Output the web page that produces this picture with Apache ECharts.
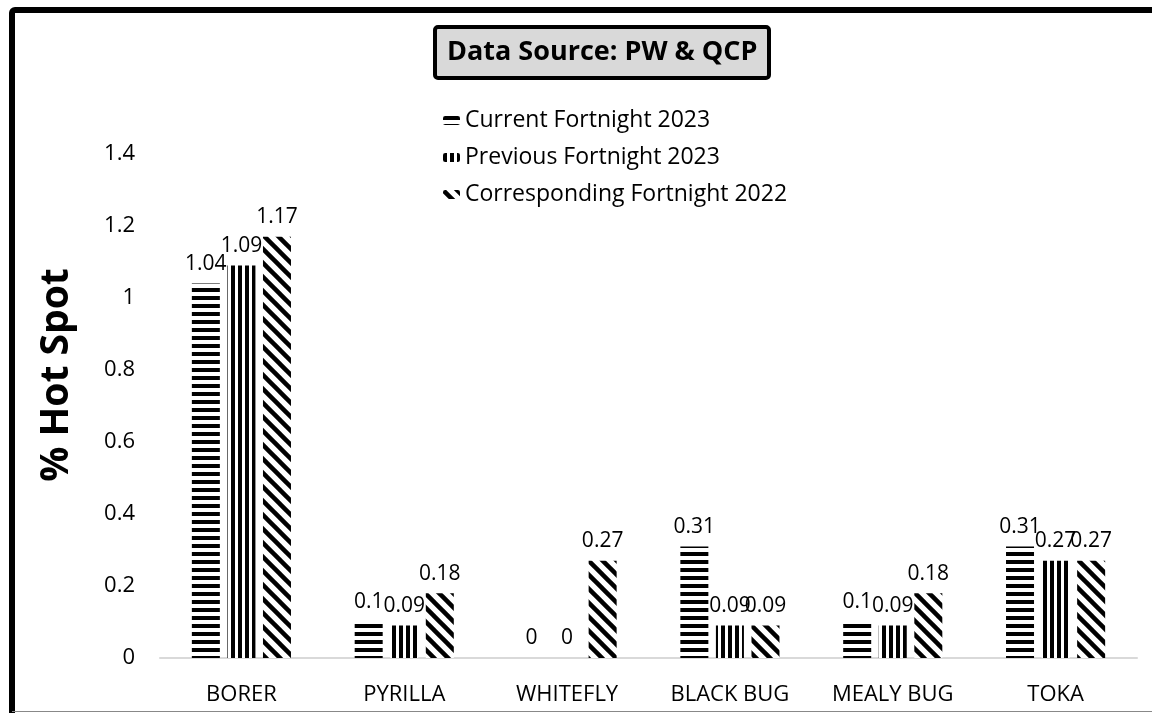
<!DOCTYPE html>
<html>
<head>
<meta charset="utf-8">
<script src="https://cdn.jsdelivr.net/npm/echarts@6/dist/echarts.min.js"></script>
<style>
  html, body { margin: 0; padding: 0; background: #fff; }
  #chart { width: 1152px; height: 713px; }
</style>
</head>
<body>
<div id="chart"></div>
<script>
// pests on the x axis
var categories = ['BORER', 'PYRILLA', 'WHITEFLY', 'BLACK BUG', 'MEALY BUG', 'TOKA'];

// % hot spot per fortnight
var currentFortnight2023 = [1.04, 0.1, 0, 0.31, 0.1, 0.31];
var previousFortnight2023 = [1.09, 0.09, 0, 0.09, 0.09, 0.27];
var correspondingFortnight2022 = [1.17, 0.18, 0.27, 0.09, 0.18, 0.27];

var seriesNames = ['Current Fortnight 2023', 'Previous Fortnight 2023', 'Corresponding Fortnight 2022'];

var FONT = 'Open Sans';

// pattern fills, like the excel ones
function stripes(kind) {
    var c = document.createElement('canvas');
    var ctx = c.getContext('2d');
    if (kind === 'horizontal') {
        c.width = 8; c.height = 8;
        ctx.fillStyle = '#fff'; ctx.fillRect(0, 0, 8, 8);
        ctx.fillStyle = '#000'; ctx.fillRect(0, 0, 8, 4);
    } else if (kind === 'vertical') {
        c.width = 7; c.height = 8;
        ctx.fillStyle = '#fff'; ctx.fillRect(0, 0, 7, 8);
        ctx.fillStyle = '#000'; ctx.fillRect(0, 0, 4, 8);
    } else {
        c.width = 14; c.height = 14;
        ctx.fillStyle = '#fff'; ctx.fillRect(0, 0, 14, 14);
        ctx.strokeStyle = '#000'; ctx.lineWidth = 4.5;
        for (var k = -1; k <= 1; k++) {
            ctx.beginPath();
            ctx.moveTo(k * 14 - 2, -2);
            ctx.lineTo(k * 14 + 16, 16);
            ctx.stroke();
        }
    }
    return { image: c, repeat: 'repeat' };
}

var labelStyle = {
    show: true,
    position: 'top',
    distance: 9,
    color: '#000',
    fontFamily: FONT,
    fontSize: 21
};

var option = {
    animation: false,
    backgroundColor: '#fff',
    title: {
        text: 'Data Source: PW & QCP',
        left: 435,
        top: 27,
        padding: [12, 12],
        backgroundColor: '#d9d9d9',
        borderColor: '#000',
        borderWidth: 4,
        borderRadius: 3,
        textStyle: {
            fontFamily: FONT,
            fontWeight: 'bold',
            fontSize: 27,
            color: '#000'
        }
    },
    legend: {
        orient: 'vertical',
        left: 438,
        top: 104,
        itemWidth: 17,
        itemHeight: 9,
        itemGap: 14,
        data: seriesNames,
        textStyle: { fontFamily: FONT, fontSize: 23, color: '#000' }
    },
    grid: { left: 160, right: 15, top: 154, bottom: 55 },
    xAxis: {
        type: 'category',
        data: categories,
        axisLine: { lineStyle: { color: '#d9d9d9', width: 2 } },
        axisTick: { show: false },
        axisLabel: { margin: 26, color: '#000', fontFamily: FONT, fontSize: 22 }
    },
    yAxis: {
        type: 'value',
        min: 0,
        max: 1.4,
        interval: 0.2,
        axisLine: { show: false },
        axisTick: { show: false },
        splitLine: { show: false },
        axisLabel: { margin: 25, color: '#000', fontFamily: FONT, fontSize: 22 }
    },
    graphic: [
        {
            type: 'rect',
            shape: { x: 12, y: 10, width: 1200, height: 760, r: 3 },
            style: { fill: 'none', stroke: '#000', lineWidth: 6 },
            silent: true
        },
        {
            type: 'line',
            shape: { x1: 12, y1: 711.5, x2: 1152, y2: 711.5 },
            style: { stroke: '#888', lineWidth: 1 },
            silent: true
        },
        {
            type: 'text',
            x: 57,
            y: 375,
            rotation: Math.PI / 2,
            style: {
                text: '% Hot Spot',
                fontFamily: FONT,
                fontWeight: 'bold',
                fontSize: 39,
                fill: '#000',
                align: 'center',
                verticalAlign: 'middle'
            }
        }
    ],
    series: [
        {
            name: seriesNames[0],
            type: 'bar',
            data: currentFortnight2023,
            barWidth: 28,
            barGap: '27%',
            itemStyle: { color: stripes('horizontal') },
            label: labelStyle
        },
        {
            name: seriesNames[1],
            type: 'bar',
            data: previousFortnight2023,
            barWidth: 28,
            barGap: '27%',
            itemStyle: { color: stripes('vertical') },
            label: labelStyle
        },
        {
            name: seriesNames[2],
            type: 'bar',
            data: correspondingFortnight2022,
            barWidth: 28,
            barGap: '27%',
            itemStyle: { color: stripes('diagonal') },
            label: labelStyle
        }
    ]
};

var myChart = echarts.init(document.getElementById('chart'));
myChart.setOption(option);
</script>
</body>
</html>
